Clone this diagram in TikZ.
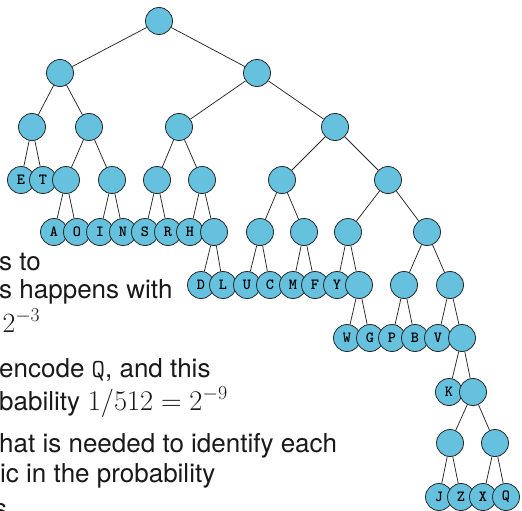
\RequirePackage{fix-cm}
\documentclass[tikz,border=0pt]{standalone}
\usepackage{graphicx}
\usepackage{fontspec}
\setmainfont{TeX Gyre Heros}
\pgfdeclarelayer{bg}
\pgfsetlayers{bg,main}
\definecolor{leafblue}{RGB}{102,193,222}
% formulas set to the width they take at 26pt
\newcommand{\fitmath}[2]{\resizebox{#1}{!}{$#2$}}
\tikzset{
  tn/.style={circle, draw=black!85, fill=leafblue, line width=0.8pt,
    minimum size=27pt, inner sep=0pt,
    font=\fontsize{15.5}{15.5}\selectfont\ttfamily\bfseries},
  edge/.style={draw=black!85, line width=0.75pt},
  body/.style={anchor=base west, inner sep=0pt, text=black!90,
    font=\fontsize{26}{31}\selectfont}
}
\begin{document}
\begin{tikzpicture}[x=1pt,y=-1pt]
\useasboundingbox (0,0) rectangle (522,511);
\clip (0,0) rectangle (522,511);

% running text of the slide, cut at the left margin
\node[body] (t1) at (-1,270) {s to};
\node[body] (t2) at (-1,298) {s happens with};
\node[body] (t3) at (2.5,332) {\fitmath{37.5pt}{2^{-3}}};
\node[body] (t4) at (-1,377) {encode \texttt{Q}, and this};
\node[body] (t5) at (-1,410) {bability\hspace{0.3em}\fitmath{140pt}{1/512 = 2^{-9}}};
\node[body] (t6) at (-1,452) {hat is needed to identify each};
\node[body] (t7) at (0,482) {ic in the probability};
\node[body] (t8) at (-6,517) {s};

% code tree
\node[tn] (r) at (159,21) {};
\node[tn] (a) at (60,73) {};
\node[tn] (b) at (257,73) {};
\node[tn] (aa) at (32,127) {};
\node[tn] (ab) at (89,127) {};
\node[tn] (ba) at (179,127) {};
\node[tn] (bb) at (335,127) {};
\node[tn] (E) at (21,180) {E};
\node[tn] (T) at (43,180) {T};
\node[tn] (aba) at (66,180) {};
\node[tn] (abb) at (112,180) {};
\node[tn] (baa) at (157,180) {};
\node[tn] (bab) at (202,180) {};
\node[tn] (bba) at (282,180) {};
\node[tn] (bbb) at (388,180) {};
\node[tn] (A) at (54,232) {A};
\node[tn] (O) at (77,232) {O};
\node[tn] (I) at (100,232) {I};
\node[tn] (N) at (123,232) {N};
\node[tn] (S) at (145,232) {S};
\node[tn] (R) at (168,232) {R};
\node[tn] (H) at (190,232) {H};
\node[tn] (babb) at (214,232) {};
\node[tn] (bbaa) at (260,232) {};
\node[tn] (bbab) at (304,232) {};
\node[tn] (bbba) at (348,232) {};
\node[tn] (bbbb) at (427,232) {};
\node[tn] (D) at (201,285) {D};
\node[tn] (L) at (223,285) {L};
\node[tn] (U) at (247,285) {U};
\node[tn] (C) at (270,285) {C};
\node[tn] (M) at (293,285) {M};
\node[tn] (F) at (315,285) {F};
\node[tn] (Y) at (337,285) {Y};
\node[tn] (bbbab) at (359,285) {};
\node[tn] (bbbba) at (404,285) {};
\node[tn] (bbbbb) at (450,285) {};
\node[tn] (W) at (347,338) {W};
\node[tn] (G) at (370,338) {G};
\node[tn] (P) at (392,338) {P};
\node[tn] (B) at (415,338) {B};
\node[tn] (V) at (438,338) {V};
\node[tn] (v6) at (462,338) {};
\node[tn] (K) at (449,392) {K};
\node[tn] (v7) at (473,392) {};
\node[tn] (v8a) at (450,443) {};
\node[tn] (v8b) at (495,443) {};
\node[tn] (J) at (439,497) {J};
\node[tn] (Z) at (461,497) {Z};
\node[tn] (X) at (483,497) {X};
\node[tn] (Q) at (506,497) {Q};

\begin{pgfonlayer}{bg}
\foreach \p/\c in {r/a, r/b, a/aa, a/ab, aa/E, aa/T, ab/aba, ab/abb,
    aba/A, aba/O, abb/I, abb/N, b/ba, b/bb, ba/baa, ba/bab, baa/S, baa/R,
    bab/H, bab/babb, babb/D, babb/L, bb/bba, bb/bbb, bba/bbaa, bba/bbab,
    bbaa/U, bbaa/C, bbab/M, bbab/F, bbb/bbba, bbb/bbbb, bbba/Y, bbba/bbbab,
    bbbab/W, bbbab/G, bbbb/bbbba, bbbb/bbbbb, bbbba/P, bbbba/B,
    bbbbb/V, bbbbb/v6, v6/K, v6/v7, v7/v8a, v7/v8b, v8a/J, v8a/Z,
    v8b/X, v8b/Q}
  \draw[edge] (\p) -- (\c);
\end{pgfonlayer}
\end{tikzpicture}
\end{document}
